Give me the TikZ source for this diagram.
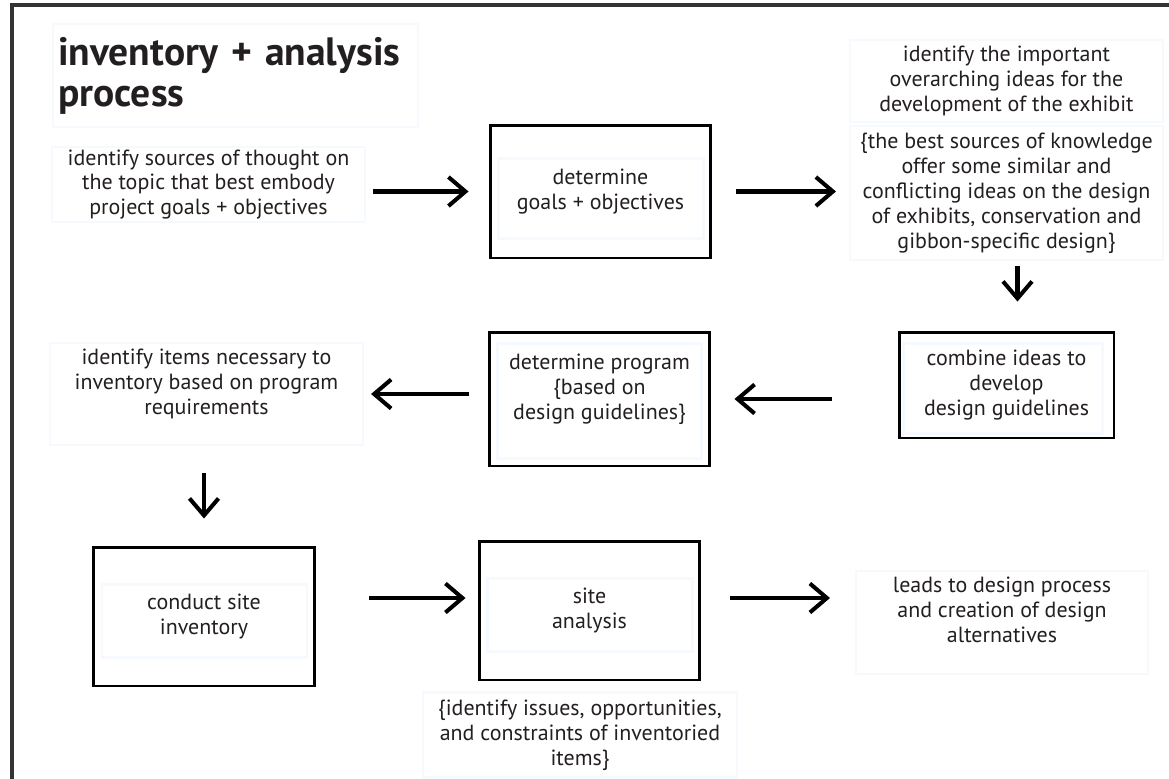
\documentclass[tikz,border=0pt]{standalone}
\usepackage{fontspec}
\setmainfont{PT Sans}
\usetikzlibrary{positioning,arrows.meta,calc}
\definecolor{inkgray}{RGB}{35,31,32}
\definecolor{paleblue}{RGB}{246,249,253}
\definecolor{framegray}{RGB}{51,51,51}

\begin{document}
\begin{tikzpicture}[
			x=0.02cm, y=-0.02cm,
			every node/.style={text=inkgray, font=\fontsize{12.5}{14.2}\selectfont},
			procbox/.style={rectangle, draw=black, line width=1.7pt, minimum width=4.42cm, minimum height=2.66cm, align=center, inner sep=0pt},
			notebox/.style={rectangle, draw=paleblue, line width=1.2pt, minimum width=6.26cm, align=center, inner sep=0pt},
			innerframe/.style={draw=paleblue, line width=1.2pt},
			arrow/.style={-{Straight Barb[length=3.4mm, width=5.8mm]}, line width=2.3pt, color=black}
			]
			\useasboundingbox (0,0) rectangle (1169,778);
			\clip (0,0) rectangle (1169,778);
			
			% page frame
			\draw[framegray, line width=2.3pt] (12,5) rectangle (1220,830);
			
			% Title
			\node[notebox, anchor=north west, minimum width=7.3cm, minimum height=2.06cm, text width=7.1cm, align=left, font=\fontsize{22.5}{23.5}\selectfont\bfseries] (title) at (52,23) {inventory + analysis\\process};
			
			% Row 1
			\node[notebox, minimum height=1.5cm] (src) at (208.5,184.5) {identify sources of thought on\\the topic that best embody\\project goals + objectives};
			\node[procbox] (goals) at (600.5,191.5) {determine\\goals + objectives};
			\node[notebox, minimum height=1.64cm] (ideas) at (1006.5,81) {identify the important\\overarching ideas for the\\development of the exhibit};
			\node[notebox, minimum height=2.68cm, below=0.04cm of ideas] (ideasnote) {\{the best sources of knowledge\\offer some similar and\\conflicting ideas on the design\\of exhibits, conservation and\\gibbon-specific design\}};
			
			% Row 2
			\node[procbox, minimum width=4.3cm, minimum height=2.12cm] (combine) at (1006.5,385) {combine ideas to\\develop\\design guidelines};
			\node[procbox, minimum height=2.68cm] (program) at (599.5,399) {determine program\\\{based on\\design guidelines\}\\\mbox{}};
			\node[notebox, minimum height=2.04cm] (items) at (206.5,394) {identify items necessary to\\inventory based on program\\requirements\\\mbox{}};
			
			% Row 3
			\node[procbox, minimum height=2.78cm] (conduct) at (204,616.5) {conduct site\\inventory};
			\node[procbox, minimum height=2.78cm] (site) at (589.5,610.5) {site\\analysis};
			\node[notebox, minimum width=5.84cm, minimum height=2.06cm] (leads) at (1002,622.5) {leads to design process\\and creation of design\\alternatives\\\mbox{}};
			\node[notebox, minimum width=6.28cm, minimum height=1.7cm, below=0.2cm of site, xshift=-0.19cm] (issues) {\{identify issues, opportunities,\\and constraints of inventoried\\items\}};
			
			% pale frames inside the boxes
			\draw[innerframe] ($(goals.north west)+(10,35)$) rectangle ($(goals.south east)+(-9,-21)$);
			\draw[innerframe] ($(combine.north west)+(6,13)$) rectangle ($(combine.south east)+(-13,-6)$);
			\draw[innerframe] ($(program.north west)+(10,13)$) rectangle ($(program.south east)+(-10,-9)$);
			\draw[innerframe] ($(conduct.north west)+(10,39)$) rectangle ($(conduct.south east)+(-9,-30)$);
			\draw[innerframe] ($(site.north west)+(10,39)$) rectangle ($(site.south east)+(-9,-30)$);
			
			% Arrows
			\draw[arrow, shorten <=0.14cm, shorten >=0.4cm] (src.east |- goals) -- (goals.west);
			\draw[arrow, shorten <=0.48cm, shorten >=0.26cm] (goals.east) -- (goals.east -| ideasnote.west);
			\draw[arrow, shorten <=0.1cm, shorten >=0.58cm] ([xshift=0.22cm]ideasnote.south) -- ([xshift=0.22cm]combine.north);
			\draw[arrow, shorten <=1.32cm, shorten >=0.46cm] (combine.west |- program) -- (program.east);
			\draw[arrow, shorten <=0.38cm, shorten >=0.14cm] ([yshift=1mm]program.west) -- ([yshift=1mm]program.west -| items.east);
			\draw[arrow, shorten <=0.54cm, shorten >=0.54cm] (items.south -| conduct) -- (conduct.north);
			\draw[arrow, shorten <=1.06cm, shorten >=0.24cm] ([yshift=2.5mm]conduct.east |- site.west) -- ([yshift=2.5mm]site.west);
			\draw[arrow, shorten <=0.58cm, shorten >=0.5cm] ([yshift=2.5mm]site.east) -- ([yshift=2.5mm]site.east -| leads.west);
			
		\end{tikzpicture}
\end{document}
